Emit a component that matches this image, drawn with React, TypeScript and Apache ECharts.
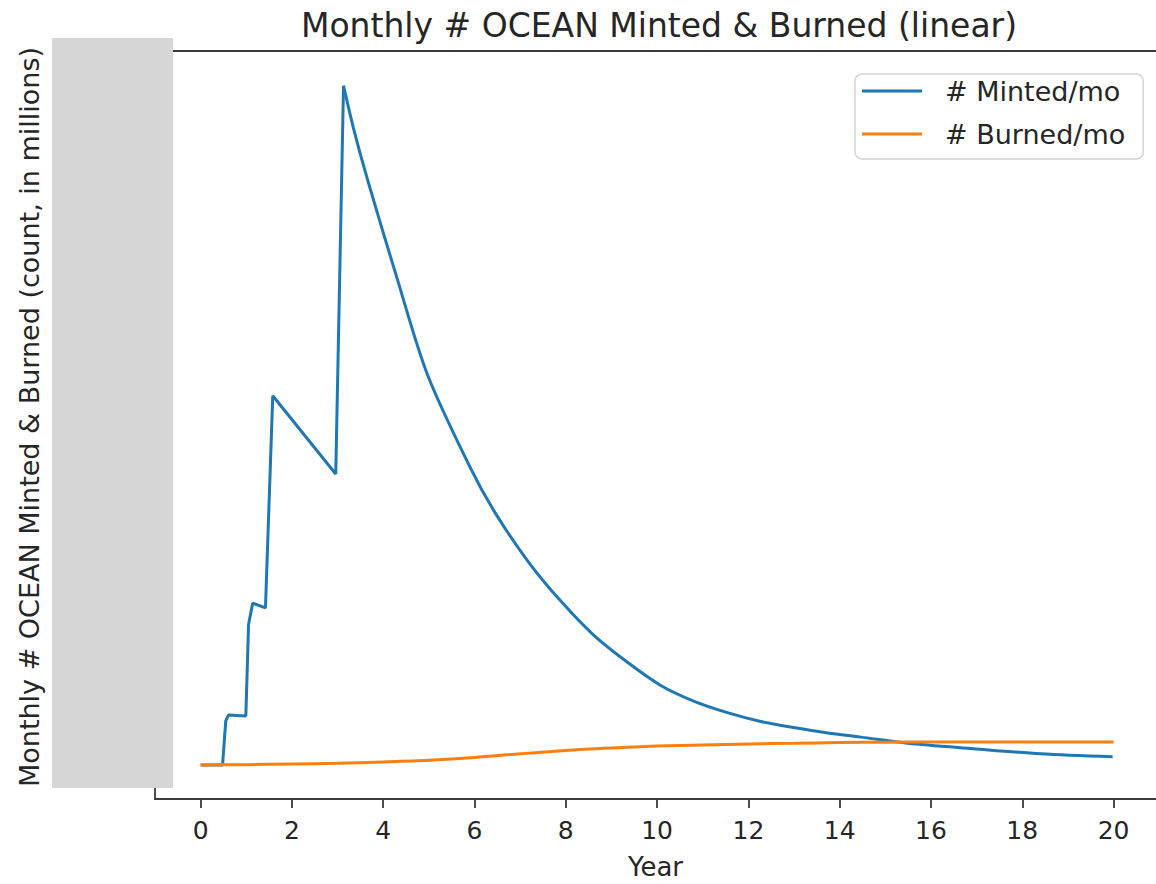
import React, { useEffect, useRef } from "react";
import * as echarts from "echarts";

// Minted per month: ramp phase (piecewise, sharp corners)
const mintRampYears = [0, 0.48, 0.55, 0.61, 0.99, 1.05, 1.14, 1.42, 1.58, 2.96, 3.13];
const mintRampValues = [0, 0, 0.65, 0.735, 0.72, 2.07, 2.38, 2.31, 5.43, 4.28, 9.99];
// Minted per month: decay phase (smooth)
const mintDecayYears = [3.13, 3.35, 3.66, 4.32, 4.97, 5.91, 6.46, 7.2, 7.89, 8.61, 9.35, 10.08, 10.8, 11.54, 12.27, 12.99, 13.74, 14.46, 15.49, 16.93, 18.4, 19.98];
const mintDecayValues = [9.99, 9.36, 8.6, 7.12, 5.74, 4.37, 3.7, 2.97, 2.41, 1.91, 1.51, 1.17, 0.94, 0.77, 0.64, 0.55, 0.47, 0.41, 0.32, 0.24, 0.165, 0.12];

const burnYears = [0, 1, 2, 3, 4, 5, 6, 7, 8, 9, 10, 11, 12, 13, 14, 15, 16, 18, 20];
const burnValues = [0, 0.005, 0.015, 0.025, 0.045, 0.07, 0.11, 0.165, 0.215, 0.25, 0.278, 0.295, 0.31, 0.32, 0.33, 0.335, 0.338, 0.34, 0.34];

const xTicks = [0, 2, 4, 6, 8, 10, 12, 14, 16, 18, 20];

const FONT = "DejaVu Sans";
const INK = "#262626";
const SPINE = "#3a3a3a";

export default function App() {
  const ref = useRef<HTMLDivElement>(null);
  useEffect(() => {
    document.body.style.margin = "0";
    const chart = echarts.init(ref.current!, null, { renderer: "svg" });
    const rampData = mintRampYears.map((x, i) => [x, mintRampValues[i]]);
    const decayData = mintDecayYears.map((x, i) => [x, mintDecayValues[i]]);
    const burnData = burnYears.map((x, i) => [x, burnValues[i]]);
    chart.setOption({
      animation: false,
      backgroundColor: "#ffffff",
      textStyle: { fontFamily: FONT },
      title: {
        text: "Monthly # OCEAN Minted & Burned (linear)",
        left: 654,
        top: 4,
        textAlign: "center",
        textStyle: { fontFamily: FONT, fontSize: 33, fontWeight: "normal", color: INK },
      },
      legend: {
        orient: "vertical",
        left: 855,
        top: 74,
        padding: [2, 18, 10, 7],
        backgroundColor: "#ffffff",
        borderColor: "#d4d4d4",
        borderWidth: 1.5,
        borderRadius: 7,
        itemWidth: 60,
        itemHeight: 3,
        itemGap: 13,
        icon: "rect",
        textStyle: { fontFamily: FONT, fontSize: 27, color: INK, lineHeight: 30, padding: [0, 0, 0, 18] },
        data: ["# Minted/mo", "# Burned/mo"],
      },
      grid: {
        left: 155,
        top: 51,
        width: 1001,
        height: 748,
        show: false,
        containLabel: false,
        outerBoundsMode: "none",
      },
      xAxis: [
        {
          type: "value",
          position: "bottom",
          min: -1,
          max: 20.93,
          name: "Year",
          nameLocation: "middle",
          nameGap: 55,
          nameTextStyle: { fontFamily: FONT, fontSize: 26, color: INK },
          axisLine: { show: true, onZero: false, lineStyle: { color: SPINE, width: 1.8 } },
          splitLine: { show: false },
          axisTick: { show: true, inside: false, length: 9, lineStyle: { color: SPINE, width: 1.8 }, customValues: xTicks },
          axisLabel: { fontFamily: FONT, fontSize: 25, color: INK, margin: 19, customValues: xTicks },
        },
        {
          type: "value",
          position: "top",
          min: -1,
          max: 20.93,
          axisLine: { show: true, onZero: false, lineStyle: { color: SPINE, width: 1.8 } },
          axisTick: { show: false },
          axisLabel: { show: false },
          splitLine: { show: false },
        },
      ],
      yAxis: {
        type: "value",
        min: -0.5,
        max: 10.5,
        name: "Monthly # OCEAN Minted & Burned (count, in millions)",
        nameLocation: "middle",
        nameGap: 112,
        nameTextStyle: { fontFamily: FONT, fontSize: 27, color: INK, padding: [0, 0, 0, 16] },
        axisLine: { show: true, onZero: false, lineStyle: { color: SPINE, width: 1.8 } },
        axisTick: { show: false },
        axisLabel: { show: false },
        splitLine: { show: false },
      },
      graphic: [
        {
          type: "rect",
          z: 100,
          shape: { x: 52, y: 38, width: 121, height: 750 },
          style: { fill: "#d6d6d6" },
        },
      ],
      series: [
        {
          name: "# Minted/mo",
          type: "line",
          xAxisIndex: 0,
          data: rampData,
          showSymbol: false,
          symbol: "none",
          lineStyle: { color: "#1f77b4", width: 3 },
          itemStyle: { color: "#1f77b4" },
          z: 2,
        },
        {
          name: "# Minted/mo",
          type: "line",
          xAxisIndex: 0,
          data: decayData,
          showSymbol: false,
          symbol: "none",
          smooth: 0.3,
          lineStyle: { color: "#1f77b4", width: 3 },
          itemStyle: { color: "#1f77b4" },
          z: 2,
        },
        {
          name: "# Burned/mo",
          type: "line",
          xAxisIndex: 0,
          data: burnData,
          showSymbol: false,
          symbol: "none",
          smooth: 0.3,
          lineStyle: { color: "#ff7f0e", width: 3 },
          itemStyle: { color: "#ff7f0e" },
          z: 3,
        },
      ],
    });
    return () => chart.dispose();
  }, []);
  return <div ref={ref} style={{ width: 1156, height: 884 }} />;
}
